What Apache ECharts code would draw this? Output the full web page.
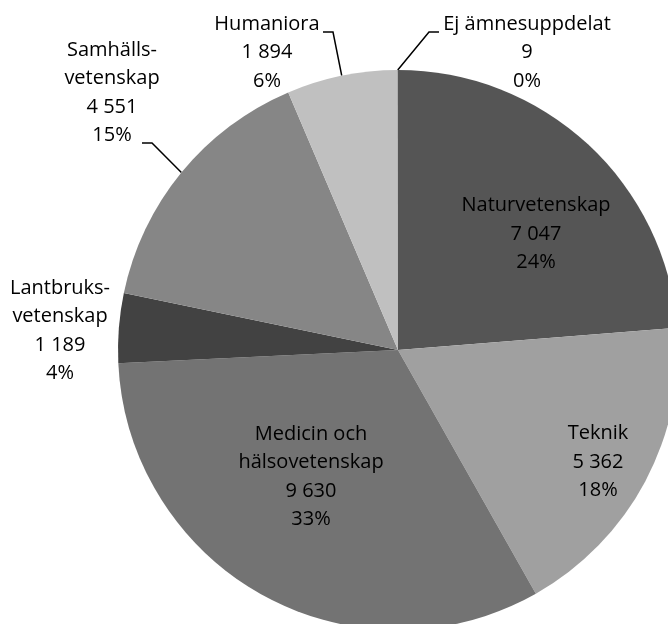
<!DOCTYPE html>
<html>
<head>
<meta charset="utf-8">
<script src="https://cdn.jsdelivr.net/npm/echarts@6/dist/echarts.min.js"></script>
<style>html,body{margin:0;padding:0;background:#fff}#c{width:668px;height:624px}</style>
</head>
<body>
<div id="c"></div>
<script>
const categories = ['Naturvetenskap','Teknik','Medicin och hälsovetenskap','Lantbruksvetenskap','Samhällsvetenskap','Humaniora','Ej ämnesuppdelat'];
const labelNames = ['Naturvetenskap','Teknik','Medicin och\nhälsovetenskap','Lantbruks-\nvetenskap','Samhälls-\nvetenskap','Humaniora','Ej ämnesuppdelat'];
const values = [7047, 5362, 9630, 1189, 4551, 1894, 9];
const colors = ['#555555','#a0a0a0','#737373','#424242','#868686','#c0c0c0','#7f7f7f'];
const insideLabel = [true, true, true, false, false, false, false];
const showLine = [false, false, false, false, true, true, true];
// label block centres
const labelPos = [[536,234],[598,462],[311,477],[60,331],[112,93],[267,52.5],[527,52.5]];
// leader-line bend/end offsets relative to label centre: [bend, end]
const lineOffsets = [null, null, null, null, [[40,50],[30,50]], [[66,-20.5],[56,-20.5]], [[-98,-20.5],[-88,-20.5]]];

function fmt(v){ return String(v).replace(/\B(?=(\d{3})+(?!\d))/g, ' '); }

const chart = echarts.init(document.getElementById('c'), null, {renderer:'canvas'});
chart.setOption({
  animation: false,
  series: [{
    type: 'pie',
    center: [398, 350],
    radius: 280,
    startAngle: 90,
    clockwise: true,
    percentPrecision: 0,
    avoidLabelOverlap: false,
    data: values.map((v, i) => ({
      name: categories[i],
      value: v,
      itemStyle: { color: colors[i] },
      label: { position: insideLabel[i] ? 'inside' : 'outside' },
      labelLine: { show: showLine[i] }
    })),
    itemStyle: { borderWidth: 0 },
    label: {
      show: true,
      formatter: p => labelNames[p.dataIndex] + '\n' + fmt(p.value) + '\n' + Math.round(p.percent) + '%',
      fontFamily: 'Open Sans',
      fontSize: 20,
      lineHeight: 28.5,
      color: '#000',
      align: 'center'
    },
    labelLine: { lineStyle: { color: '#000', width: 1.5 }, length: 15, length2: 12 },
    labelLayout: function (p) {
      const i = p.dataIndex;
      const pos = labelPos[i];
      const out = { x: pos[0], y: pos[1], align: 'center', verticalAlign: 'middle' };
      const off = lineOffsets[i];
      if (off && p.labelLinePoints && p.labelLinePoints.length) {
        const p0 = p.labelLinePoints[0];
        out.labelLinePoints = [
          [p0[0], p0[1]],
          [pos[0] + off[0][0], pos[1] + off[0][1]],
          [pos[0] + off[1][0], pos[1] + off[1][1]]
        ];
      }
      return out;
    }
  }]
});
</script>
</body>
</html>
